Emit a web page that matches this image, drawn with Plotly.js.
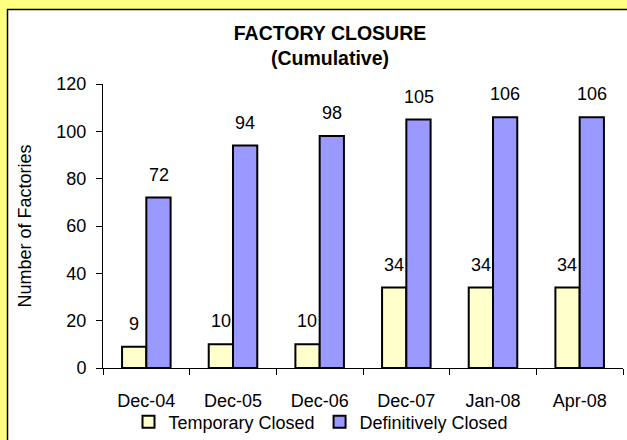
<!DOCTYPE html>
<html>
<head>
<meta charset="utf-8">
<script src="https://cdn.plot.ly/plotly-3.0.1.min.js"></script>
<style>html,body{margin:0;padding:0;background:#FFFF80;}#chart{width:627px;height:440px;}</style>
</head>
<body>
<div id="chart"></div>
<script>
const categories = ["Dec-04", "Dec-05", "Dec-06", "Dec-07", "Jan-08", "Apr-08"];
const temporaryClosed = [9, 10, 10, 34, 34, 34];
const definitivelyClosed = [72, 94, 98, 105, 106, 106];
const seriesNames = ["Temporary Closed", "Definitively Closed"];
const yTicks = [0, 20, 40, 60, 80, 100, 120];

const FONT = "Liberation Sans, Arial, sans-serif";
const FS = 18;
const L = 103, R = 4, T = 84, B = 72, W = 627, H = 440;
const pw = W - L - R, ph = H - T - B;
const px = v => (v - L) / pw;
const py = v => (H - B - v) / ph;

const barPx = 24.5;
const annotations = [];
[[temporaryClosed, -barPx / 2], [definitivelyClosed, barPx / 2]].forEach(([vals, dx]) => {
  vals.forEach((v, i) => {
    annotations.push({
      x: categories[i], y: v, xref: 'x', yref: 'y',
      text: String(v), showarrow: false,
      xshift: dx, yshift: 23, yanchor: 'middle',
      font: {family: FONT, size: FS, color: '#000'}
    });
  });
});

const traces = [
  {type: 'bar', name: seriesNames[0], x: categories, y: temporaryClosed,
   marker: {color: '#FFFFCC', line: {color: '#000', width: 2}}},
  {type: 'bar', name: seriesNames[1], x: categories, y: definitivelyClosed,
   marker: {color: '#9999FF', line: {color: '#000', width: 2}}}
];

const layout = {
  width: W, height: H,
  margin: {l: L, r: R, t: T, b: B, pad: 0, autoexpand: false},
  paper_bgcolor: '#FFFF80',
  plot_bgcolor: '#FFFFFF',
  barmode: 'group', bargap: 0.44, bargroupgap: 0,
  font: {family: FONT, size: FS, color: '#000'},
  title: {
    text: '<b>FACTORY CLOSURE</b><br><b>(Cumulative)</b>',
    font: {family: FONT, size: 19.5, color: '#000'},
    xref: 'container', x: 330 / W, xanchor: 'center',
    yref: 'container', y: 1 - 40 / H, yanchor: 'middle'
  },
  xaxis: {
    type: 'category', tickson: 'boundaries', ticks: 'outside', ticklen: 6,
    tickcolor: '#000', tickwidth: 1, showline: true, linecolor: '#000', linewidth: 1,
    showgrid: false, zeroline: false, fixedrange: true, ticklabelstandoff: 16,
    automargin: false,
    tickfont: {family: FONT, size: FS, color: '#000'}
  },
  yaxis: {
    range: [0, 120], tickvals: yTicks, ticks: 'outside', ticklen: 6,
    tickcolor: '#000', tickwidth: 1, showline: true, linecolor: '#000', linewidth: 1,
    showgrid: false, zeroline: false, fixedrange: true, ticklabelstandoff: 6,
    automargin: false,
    tickfont: {family: FONT, size: FS, color: '#000'},
    title: {text: 'Number of Factories', font: {family: FONT, size: FS, color: '#000'}, standoff: 20}
  },
  showlegend: true,
  legend: {
    orientation: 'h', x: px(321), xanchor: 'center', y: py(422), yanchor: 'middle',
    font: {family: FONT, size: FS, color: '#000'}, bgcolor: 'rgba(0,0,0,0)',
    itemclick: false, itemdoubleclick: false, traceorder: 'normal'
  },
  shapes: [{
    type: 'rect', xref: 'paper', yref: 'paper', layer: 'below',
    x0: px(7.5), x1: px(700), y0: py(9.5), y1: py(500),
    fillcolor: '#FFFFFF', line: {color: '#000', width: 1.5}
  }],
  annotations: annotations
};

Plotly.newPlot('chart', traces, layout, {displayModeBar: false, staticPlot: true});
</script>
</body>
</html>
